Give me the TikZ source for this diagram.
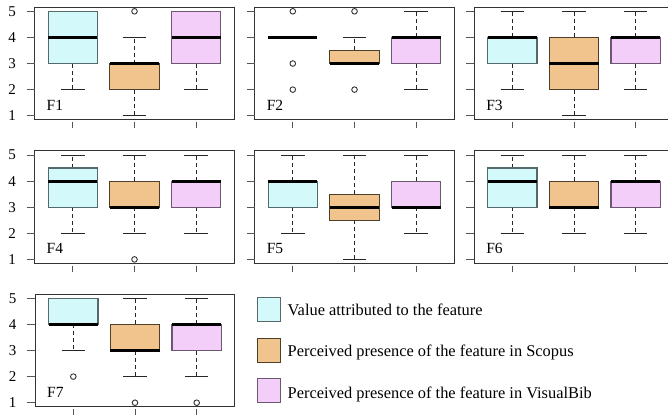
\documentclass[tikz,border=0pt]{standalone}
\usepackage{fontspec}
\setmainfont{Liberation Serif}
\definecolor{cyanfill}{HTML}{D4F9FB}
\definecolor{orangefill}{HTML}{F0C48C}
\definecolor{pinkfill}{HTML}{F2CEF8}
\definecolor{cyanline}{HTML}{55696A}
\definecolor{orangeline}{HTML}{4E3F2B}
\definecolor{pinkline}{HTML}{6B5870}
\definecolor{framecol}{HTML}{333333}
\definecolor{tickcol}{HTML}{555555}
\tikzset{
  framebox/.style={draw=framecol, line width=1pt},
  tickline/.style={draw=tickcol, line width=1pt},
  whisk/.style={draw=black!85, line width=0.9pt, dash pattern=on 4pt off 3pt},
  capline/.style={draw=black!85, line width=0.9pt},
  cyanbox/.style={fill=cyanfill, draw=cyanline, line width=1.2pt},
  orangebox/.style={fill=orangefill, draw=orangeline, line width=1.2pt},
  pinkbox/.style={fill=pinkfill, draw=pinkline, line width=1.2pt},
  medline/.style={draw=black, line width=3pt},
  outlier/.style={draw=black!80, fill=white, line width=0.9pt},
  axlab/.style={font=\fontsize{15}{18}\selectfont, inner sep=0pt, anchor=center},
  flab/.style={font=\fontsize{15.5}{18}\selectfont, inner sep=0pt, anchor=base west},
  legtext/.style={font=\fontsize{16.4}{19}\selectfont, inner sep=0pt, anchor=base west},
  legsq/.style={line width=1.1pt}
}
% whisker from box edge #2 to end #3 at group #1
\newcommand\bxWhisk[3]{%
  \draw[whisk] (#1,#2) -- (#1,#3);
  \draw[capline] (#1-0.19,#3) -- (#1+0.19,#3);}
% box at group #1, style #2, q1 #3, q3 #4, median #5
\newcommand\bxBox[5]{%
  \draw[#2] (#1-0.4,#3) rectangle (#1+0.4,#4);
  \draw[medline] (#1-0.4,#5) -- (#1+0.4,#5);}
\newcommand\bxMed[2]{%
  \draw[medline] (#1-0.4,#2) -- (#1+0.4,#2);}
\newcommand\bxOut[2]{%
  \draw[outlier] (#1,#2) circle[radius=2.8pt];}
% panel frame: #1 = name, #2 = label text, #3 = show y labels (1/0)
\newcommand\bxFrame[3]{%
  \draw[framebox] (0.38,0.84) rectangle (3.62,5.16);
  \foreach \v in {1,...,5} {\draw[tickline] (0.38,\v) -- ++(-8pt,0pt);}
  \foreach \g in {1,2,3} {\draw[tickline] (\g,0.84) ++(0pt,-2pt) -- ++(0pt,-6pt);}
  \ifnum#3=1
    \foreach \v in {1,...,5} {\node[axlab] (ylab-#1-\v) at ([xshift=-22.5pt]0.38,\v) {\v};}
  \fi
  \node[flab] (flab-#1) at ([xshift=12pt]0.38,1.21) {#2};}
\begin{document}
\begin{tikzpicture}[x=1pt,y=-1pt]
\useasboundingbox (0,0) rectangle (668,416);
\fill[white] (0,0) rectangle (668,416);

% ---------- F1 ----------
\begin{scope}[shift={(11.1,141.8)},x=61.7pt,y=26.1pt]
  \bxFrame{p1}{F1}{1}
  \bxWhisk{1}{3}{2}
  \bxBox{1}{cyanbox}{3}{5}{4}
  \bxWhisk{2}{2}{1}\bxWhisk{2}{3}{4}
  \bxBox{2}{orangebox}{2}{3}{3}
  \bxOut{2}{5}
  \bxWhisk{3}{3}{2}
  \bxBox{3}{pinkbox}{3}{5}{4}
\end{scope}

% ---------- F2 ----------
\begin{scope}[shift={(231.1,141.8)},x=61.7pt,y=26.1pt]
  \bxFrame{p2}{F2}{0}
  \bxMed{1}{4}
  \bxOut{1}{5}\bxOut{1}{3}\bxOut{1}{2}
  \bxWhisk{2}{3.5}{4}
  \bxBox{2}{orangebox}{3}{3.5}{3}
  \bxOut{2}{5}\bxOut{2}{2}
  \bxWhisk{3}{3}{2}\bxWhisk{3}{4}{5}
  \bxBox{3}{pinkbox}{3}{4}{4}
\end{scope}

% ---------- F3 ----------
\begin{scope}[shift={(450.6,141.8)},x=61.7pt,y=26.1pt]
  \bxFrame{p3}{F3}{0}
  \bxWhisk{1}{3}{2}\bxWhisk{1}{4}{5}
  \bxBox{1}{cyanbox}{3}{4}{4}
  \bxWhisk{2}{2}{1}\bxWhisk{2}{4}{5}
  \bxBox{2}{orangebox}{2}{4}{3}
  \bxWhisk{3}{3}{2}\bxWhisk{3}{4}{5}
  \bxBox{3}{pinkbox}{3}{4}{4}
\end{scope}

% ---------- F4 ----------
\begin{scope}[shift={(11.1,285.5)},x=61.7pt,y=26.1pt]
  \bxFrame{p4}{F4}{1}
  \bxWhisk{1}{3}{2}\bxWhisk{1}{4.5}{5}
  \bxBox{1}{cyanbox}{3}{4.5}{4}
  \bxWhisk{2}{3}{2}\bxWhisk{2}{4}{5}
  \bxBox{2}{orangebox}{3}{4}{3}
  \bxOut{2}{1}
  \bxWhisk{3}{3}{2}\bxWhisk{3}{4}{5}
  \bxBox{3}{pinkbox}{3}{4}{4}
\end{scope}

% ---------- F5 ----------
\begin{scope}[shift={(231.1,285.5)},x=61.7pt,y=26.1pt]
  \bxFrame{p5}{F5}{0}
  \bxWhisk{1}{3}{2}\bxWhisk{1}{4}{5}
  \bxBox{1}{cyanbox}{3}{4}{4}
  \bxWhisk{2}{2.5}{1}\bxWhisk{2}{3.5}{5}
  \bxBox{2}{orangebox}{2.5}{3.5}{3}
  \bxWhisk{3}{3}{2}\bxWhisk{3}{4}{5}
  \bxBox{3}{pinkbox}{3}{4}{3}
\end{scope}

% ---------- F6 ----------
\begin{scope}[shift={(450.6,285.5)},x=61.7pt,y=26.1pt]
  \bxFrame{p6}{F6}{0}
  \bxWhisk{1}{3}{2}\bxWhisk{1}{4.5}{5}
  \bxBox{1}{cyanbox}{3}{4.5}{4}
  \bxWhisk{2}{3}{2}\bxWhisk{2}{4}{5}
  \bxBox{2}{orangebox}{3}{4}{3}
  \bxWhisk{3}{3}{2}\bxWhisk{3}{4}{5}
  \bxBox{3}{pinkbox}{3}{4}{4}
\end{scope}

% ---------- F7 ----------
\begin{scope}[shift={(11.6,428.8)},x=61.7pt,y=26.1pt]
  \bxFrame{p7}{F7}{1}
  \bxWhisk{1}{4}{3}
  \bxBox{1}{cyanbox}{4}{5}{4}
  \bxOut{1}{2}
  \bxWhisk{2}{3}{2}\bxWhisk{2}{4}{5}
  \bxBox{2}{orangebox}{3}{4}{3}
  \bxOut{2}{1}
  \bxWhisk{3}{3}{2}\bxWhisk{3}{4}{5}
  \bxBox{3}{pinkbox}{3}{4}{4}
  \bxOut{3}{1}
\end{scope}

% ---------- legend ----------
\draw[legsq, fill=cyanfill, draw=cyanline] (257.3,297.5) rectangle (280.7,321.3);
\draw[legsq, fill=orangefill, draw=orangeline] (257.3,338.8) rectangle (280.7,362.6);
\draw[legsq, fill=pinkfill, draw=pinkline] (257.3,378.8) rectangle (280.7,402.6);
\node[legtext] (leg1) at (287.5,315.8) {Value attributed to the feature};
\node[legtext] (leg2) at (287.5,356.4) {Perceived presence of the feature in Scopus};
\node[legtext] (leg3) at (287.5,398.2) {Perceived presence of the feature in VisualBib};
\end{tikzpicture}
\end{document}
